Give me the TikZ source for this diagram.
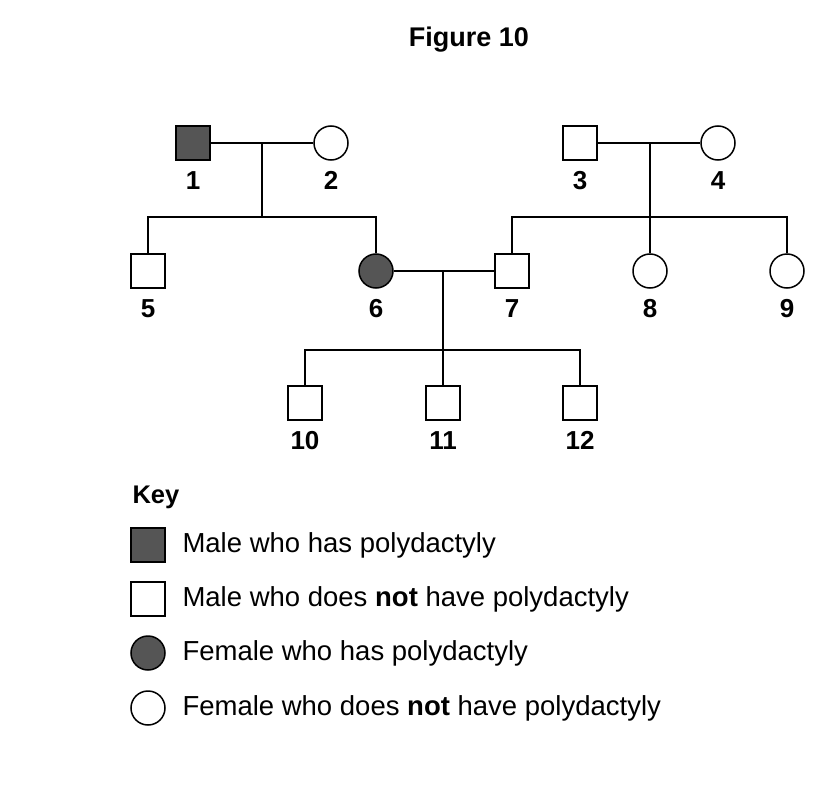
\documentclass[tikz,border=0pt]{standalone}
\usepackage{fontspec}
\setmainfont{Liberation Sans}
\definecolor{affected}{HTML}{555555}
\begin{document}
    \begin{tikzpicture}[x=1pt,y=-1pt,
        male/.style={draw,line width=1.5pt,minimum size=34pt,inner sep=0,anchor=center},
        female/.style={draw,circle,line width=1.5pt,minimum size=34pt,inner sep=0,anchor=center},
        ill/.style={fill=affected},
        num/.style={font=\fontsize{26}{26}\selectfont\bfseries,inner sep=0},
        keytext/.style={font=\fontsize{27.5}{30}\selectfont,anchor=west,inner sep=0},
        line width=1.1pt]
        \useasboundingbox (0,0) rectangle (820,800);
        \node[font=\fontsize{27}{30}\selectfont\bfseries] (title) at (469,40) {Figure 10};
        % first generation
        \node[male,ill] (m1) at (193,143) {};
        \node[female] (f2) at (331,143) {};
        \node[male] (m3) at (580,143) {};
        \node[female] (f4) at (718,143) {};
        % second generation
        \node[male] (m5) at (148,271) {};
        \node[female,ill] (f6) at (376,271) {};
        \node[male] (m7) at (512,271) {};
        \node[female] (f8) at (650,271) {};
        \node[female] (f9) at (787,271) {};
        % third generation
        \node[male] (m10) at (305,403) {};
        \node[male] (m11) at (443,403) {};
        \node[male] (m12) at (580,403) {};
        % numbers
        \foreach \p/\n in {m1/1,f2/2,m3/3,f4/4,m5/5,f6/6,m7/7,f8/8,f9/9,m10/10,m11/11,m12/12}
            \node[num,anchor=north] (n\n) at ([yshift=-10pt]\p.south) {\n};
        % marriages and offspring
        \coordinate (j12) at (262,143);
        \coordinate (s12) at (262,217);
        \coordinate (j34) at (650,143);
        \coordinate (s34) at (650,217);
        \coordinate (j67) at (443,271);
        \coordinate (s67) at (443,350);
        \draw (m1) -- (f2);
        \draw (j12) -- (s12);
        \draw (m5.north) |- (s12) -| (f6.north);
        \draw (m3) -- (f4);
        \draw (j34) -- (f8.north);
        \draw (m7.north) |- (s34) -| (f9.north);
        \draw (f6) -- (m7);
        \draw (j67) -- (m11.north);
        \draw (m10.north) |- (s67) -| (m12.north);
        % key
        \node[font=\fontsize{25.5}{28}\selectfont\bfseries,anchor=west,inner sep=0] (key) at (132,497) {Key};
        \node[male,ill] (k1) at (148,545) {};
        \node[male] (k2) at (148,599) {};
        \node[female,ill] (k3) at (148,653) {};
        \node[female] (k4) at (148,708) {};
        \node[keytext] (t1) at (182,545) {Male who has polydactyly};
        \node[keytext] (t2) at (182,599) {Male who does \textbf{not} have polydactyly};
        \node[keytext] (t3) at (182,653) {Female who has polydactyly};
        \node[keytext] (t4) at (182,708) {Female who does \textbf{not} have polydactyly};
    \end{tikzpicture}
\end{document}
